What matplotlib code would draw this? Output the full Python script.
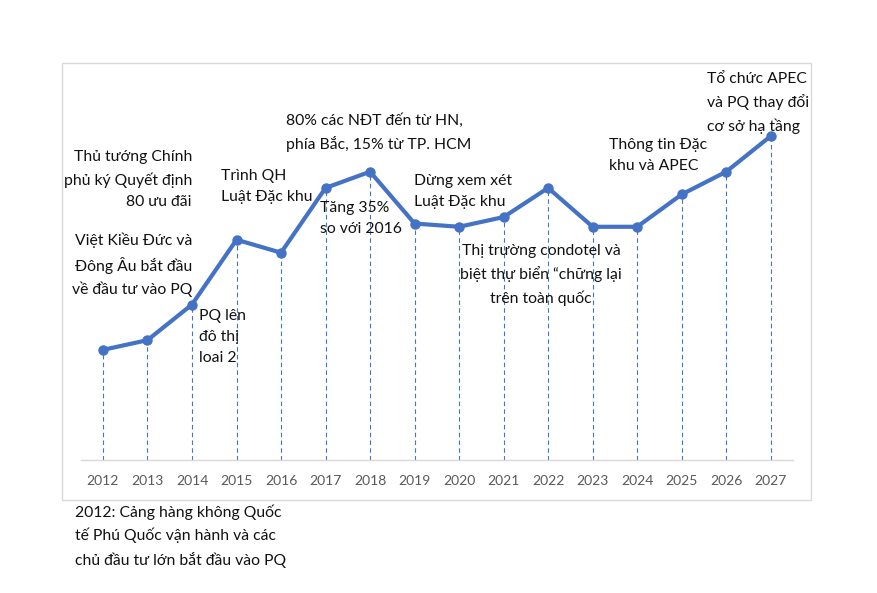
import matplotlib
matplotlib.use("Agg")
import matplotlib.pyplot as plt
from matplotlib.patches import Rectangle

plt.rcParams['font.family'] = ['Lato', 'DejaVu Sans']

years = ['2012', '2013', '2014', '2015', '2016', '2017', '2018', '2019',
         '2020', '2021', '2022', '2023', '2024', '2025', '2026', '2027']
values = [34, 37, 48, 68, 64, 84, 89, 73, 72, 75, 84, 72, 72, 82, 89, 100]

W, H = 877, 593
fig = plt.figure(figsize=(W / 100, H / 100), dpi=100)
fig.patch.set_facecolor('white')

def fx(px):
    return px / W

def fy(py):
    return 1 - py / H

# outer chart box
fig.patches.append(Rectangle((fx(62), fy(500)), fx(811) - fx(62), fy(63) - fy(500),
                             transform=fig.transFigure, fill=False,
                             edgecolor='#d9d9d9', linewidth=1.0))

ax = fig.add_axes([fx(80.7), fy(460), fx(793) - fx(80.7), fy(70) - fy(460)])
ax.set_facecolor('none')
xs = list(range(len(years)))
blue = '#4472C4'
ax.vlines(xs, 0, values, colors=blue, linestyles=(0, (4, 3)), linewidth=0.8)
ax.plot(xs, values, color=blue, linewidth=3.0, marker='o', markersize=6.5,
        solid_capstyle='round', solid_joinstyle='round', zorder=3)
ax.set_xlim(-0.5, len(years) - 0.5)
ax.set_ylim(0, 120.4)
ax.set_xticks(xs)
ax.set_xticklabels(years, color='#595959', fontsize=10)
ax.tick_params(axis='x', length=0, pad=11)
ax.set_yticks([])
for s in ['top', 'right', 'left']:
    ax.spines[s].set_visible(False)
ax.spines['bottom'].set_color('#d9d9d9')
ax.spines['bottom'].set_linewidth(1.0)

fs = 11.3
ls = 1.65
tc = '#111111'

def label(px, py, text, ha='left'):
    fig.text(fx(px), fy(py), text, ha=ha, va='top', fontsize=fs,
             linespacing=ls, color=tc)

label(192, 150, "Thủ tướng Chính\nphủ ký Quyết định\n80 ưu đãi", ha='right')
label(192, 232, "Việt Kiều Đức và\nĐông Âu bắt đầu\nvề đầu tư vào PQ", ha='right')
label(199, 309, "PQ lên\nđô thị\nloai 2")
label(221, 169, "Trình QH\nLuật Đặc khu")
label(286, 113, "80% các NĐT đến từ HN,\nphía Bắc, 15% từ TP. HCM")
label(320, 201, "Tăng 35%\nso với 2016")
label(414, 174, "Dừng xem xét\nLuật Đặc khu")
label(541, 244, "Thị trường condotel và\nbiệt thự biển “chững lại\ntrên toàn quốc", ha='center')
label(609, 138, "Thông tin Đặc\nkhu và APEC")
label(707, 72, "Tổ chức APEC\nvà PQ thay đổi\ncơ sở hạ tầng")
label(75, 504, "2012: Cảng hàng không Quốc\ntế Phú Quốc vận hành và các\nchủ đầu tư lớn bắt đầu vào PQ")

fig.savefig('out.png', dpi=100, facecolor='white')
